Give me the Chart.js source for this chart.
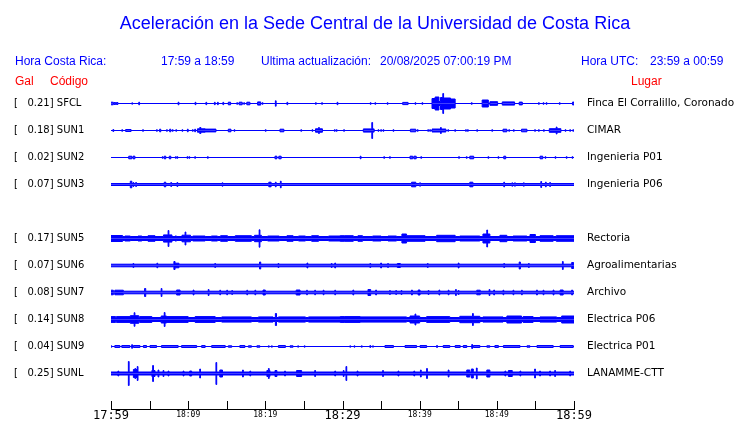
<!DOCTYPE html>
<html>
<head>
<meta charset="utf-8">
<script src="https://cdn.jsdelivr.net/npm/chart.js@4.4.1/dist/chart.umd.min.js"></script>
<style>
  body { margin: 0; background: #fff; }
</style>
</head>
<body>
<canvas id="myChart" width="740" height="423"></canvas>
<script>
const stations = ["SFCL", "SUN1", "SUN2", "SUN3", "SUN5", "SUN6", "SUN7", "SUN8", "SUN9", "SUNL"];
const peakGal = ["0.21", "0.18", "0.02", "0.07", "0.17", "0.07", "0.08", "0.14", "0.04", "0.25"];
const places = ["Finca El Corralillo, Coronado", "CIMAR", "Ingenieria P01", "Ingenieria P06", "Rectoria",
  "Agroalimentarias", "Archivo", "Electrica P06", "Electrica P01", "LANAMME-CTT"];
const slots = [0, 1, 2, 3, 5, 6, 7, 8, 9, 10];
const timeLabels = ["17:59", "18:09", "18:19", "18:29", "18:39", "18:49", "18:59"];

// background noise level of each trace
const noise = [0, 0, 0, 1, 2, 1.3, 1.3, 2, 0, 1.5];

// bursts: [start min, end min, half amplitude]
const evSFCL = [[0,0.3,1.3],[0.4,0.6,1],[0.7,0.9,1],[2.7,2.8,0.7],[3.6,3.7,1.3],[8.7,8.8,1.3],[10.9,11,1.2],
  [12.3,12.4,1.2],[13.4,13.5,1.2],[13.8,13.9,1.2],[14.5,14.6,1.2],[15.2,15.5,1.3],[16.3,16.4,0.8],[16.6,17,1.3],
  [17.2,17.3,0.8],[17.6,18,1.3],[19,19.4,1.6],[19.6,19.7,0.8],[21.3,21.4,2.7],[22.8,22.9,1.2],[26.5,26.6,0.8],
  [27.3,27.4,0.8],[29.3,29.4,1.2],[33.6,33.7,0.8],[34.2,34.3,0.8],[35.8,35.9,0.8],[37.8,38.5,1.1],[39.4,39.5,0.8],
  [40.3,40.4,0.8],[41.6,42,5],[42,42.5,6.5],[42.5,42.7,2],[42.7,43,6],[43,43.1,10],[43.1,44,5.5],[44,44.6,4.5],
  [46.7,46.8,0.8],[48.1,48.9,3.5],[49.1,50.1,1.8],[50.7,52.3,1.6],[52.9,53.3,1.4],[55.4,55.5,0.8],[56,56.1,0.8],
  [56.4,56.5,0.8],[58.1,58.2,0.8],[59.8,60,1.4]];
const evSUN1 = [[0.25,0.35,1],[1.4,1.5,0.8],[1.9,2.6,1],[4.1,4.2,0.8],[5.9,6,0.8],[6.3,6.45,1.3],[7.2,7.3,0.8],
  [7.6,7.75,1.3],[7.95,8.05,0.8],[8.4,8.5,0.8],[9.2,9.3,0.8],[9.9,10,1.3],[10.55,10.65,0.8],[10.85,10.95,1.3],
  [11.2,12.2,1.7],[11.5,11.65,3],[12.2,13.6,1.4],[15.2,15.55,1.3],[15.95,16.05,0.8],[20,20.1,0.8],[21.9,22.4,1.3],
  [24.6,24.7,0.8],[26.05,26.15,0.8],[26.5,27.4,1.7],[26.9,27,3],[28.95,29.05,0.8],[29.2,29.3,0.8],[30.15,30.25,0.8],
  [32.7,34.1,1.6],[33.8,33.9,8],[34.6,34.7,0.8],[34.95,35.05,0.8],[35.25,35.35,0.8],[36.55,36.65,0.8],
  [38.8,39.5,1.3],[39.7,39.8,0.8],[41.05,41.15,0.8],[41.3,41.4,0.8],[41.6,43.4,1.5],[42.7,42.8,3],[43.65,43.75,0.8],
  [44.55,44.65,0.8],[45.95,46.05,0.8],[46.2,46.3,0.8],[47.4,47.5,0.8],[49.35,49.45,0.8],[50.8,51.3,1.3],
  [51.55,51.65,0.8],[52.15,52.25,0.8],[53.2,53.9,1.3],[54.9,55,0.8],[55.4,55.5,0.8],[56.05,56.15,0.8],
  [56.8,58.3,1.8],[57.7,57.8,3.5],[58.85,58.95,0.8],[59.45,59.55,0.8],[59.85,59.95,0.8]];
const evSUN2 = [[2.3,2.7,1.3],[2.85,3.1,1.3],[6.65,6.75,0.8],[6.9,7.1,1.3],[7.55,7.75,1.3],[8.35,8.45,0.8],
  [8.55,8.65,0.8],[9.85,9.95,0.8],[10.1,10.2,0.8],[10.85,10.95,0.8],[12.5,12.6,0.8],[21.25,21.5,1.3],
  [21.75,22.05,1.3],[32.3,32.4,1.3],[35.35,35.45,0.8],[36.1,36.2,0.8],[38.75,39.1,1.3],[39.25,39.55,1.3],
  [40.15,40.25,0.8],[45.05,45.15,0.8],[46.05,46.15,0.8],[46.5,47,1.3],[48.85,48.95,0.8],[50.15,50.25,0.8],
  [50.9,51.15,1.3],[55.6,55.95,1.3],[56.25,56.35,0.8],[57.55,57.65,0.8],[59,59.1,0.8],[59.75,59.85,0.8]];
const evSUN3 = [[2.5,2.7,3.3],[2.85,2.95,2],[3.2,3.3,2],[6.9,7.1,2.3],[7.75,7.85,2],[8.55,8.65,2],[14.4,14.5,1.7],
  [20.45,20.75,2.3],[21.3,21.4,2.3],[21.95,22.05,3.3],[38.95,39.5,2.3],[40,40.1,1.7],[46.5,46.9,2.3],
  [50.9,51,2.3],[51.95,52.05,1.7],[52.3,52.4,1.7],[53.45,53.55,1.7],[55.7,55.8,3],[56.3,56.4,2.3],[56.85,56.95,2]];
const evSUN5 = [[0,1.5,3],[1.8,2.5,2.5],[3.5,4,2.5],[4.8,5.7,2.8],[6.8,7.9,3.6],[7.4,7.5,8],[8.3,8.5,2.5],
  [9.2,10.3,3.3],[9.6,9.7,6.5],[10.6,12.2,2.5],[13,13.8,2.5],[14.2,15.1,2.8],[16.1,18.2,2.8],[18.6,19.5,3.2],
  [19.2,19.3,8.7],[20.3,21.8,2.5],[22.8,23.6,2.8],[24.3,25.2,2.5],[26,26.9,2.8],[28.2,30.3,2.5],[29.7,31.4,2.8],
  [32,32.6,2.8],[33.9,35,2.5],[35.9,37,2.5],[37.7,38.3,4.5],[38.3,40.7,2.8],[42.2,44.6,3.2],[45.2,47.8,2.5],
  [48.2,49.1,4.5],[48.7,48.8,8.5],[50.4,51.3,3.2],[52.1,53.9,2.5],[54.3,55,4],[55.6,57.3,2.8],[57.7,60,2.8]];
const evSUN6 = [[2.85,2.95,2],[5.95,6.05,2.3],[8.15,8.3,4],[8.3,8.8,2.3],[13.45,13.55,2],[19.25,19.4,3.5],
  [21.65,21.75,2],[25.4,25.5,2.5],[28.55,28.65,2],[29,29.1,2.5],[33.55,33.65,2],[34.95,35.05,2.5],
  [35.85,35.95,2],[37.1,37.5,2],[41,41.1,2],[45,45.1,2.5],[50.9,51,2],[52.9,53.05,3.5],[54.1,54.2,2],
  [58.5,58.6,4],[59.7,59.95,3]];
const evSUN7 = [[0,0.3,2.3],[0.5,1.6,2.3],[4.35,4.5,4],[6.5,6.6,4],[8.5,8.95,2.5],[10.65,10.75,2.5],[12.6,12.7,3],
  [14.1,14.2,2.3],[15,15.1,2.3],[15.65,15.75,2],[17.6,17.7,2.3],[18.65,18.75,2.3],[19.7,20,2.5],[24,24.5,2.5],
  [25.35,25.45,2.3],[26.4,26.5,2.3],[27.5,27.6,2.3],[29,29.1,2.3],[31.35,31.45,2.5],[33.3,33.65,3],[34.3,34.4,2.5],
  [36.1,36.2,2],[36.9,37,2],[37.6,37.7,2],[38.95,39.05,2.5],[39.8,40.05,2.5],[41.1,41.2,2],[42.5,42.6,2.5],
  [43.7,43.8,2.3],[44.65,44.75,3],[45,45.1,2],[47.4,47.85,2.3],[49,49.1,3],[49.6,49.7,2.5],[50.8,50.9,2.3],
  [52.1,52.2,2.3],[53.2,53.3,2.3],[55.15,55.25,2.5],[56,56.1,2.3],[57.3,57.4,2.5],[58.2,58.6,2.5],[59.7,59.8,2.5]];
const evSUN8 = [[0,0.6,2.9],[0.7,2.5,2.9],[2.5,3.6,3.8],[3,3.1,6.8],[3.7,5.3,2.9],[6.5,7.2,3.5],[6.9,7,7],
  [7.2,10,2.9],[10.9,13.5,2.9],[14.35,18.2,2.6],[19.1,21,2.6],[21.3,21.45,6],[21.7,25.2,2.6],[25.6,30.3,2.6],
  [29.7,32.3,2.9],[32.3,38.3,2.6],[38.75,40,3.5],[39.4,39.5,5.5],[40.9,43.9,2.9],[45.2,47.8,3.2],[46.85,46.95,6],
  [48.2,50.8,2.6],[51.3,53.2,3.5],[53.4,54.7,2.9],[55.6,57.75,2.6],[58.4,60,3.5]];
const evSUN9 = [[0,0.1,0.7],[0.5,1.15,1],[1.4,2.45,1],[2.68,2.78,1.8],[2.9,3.75,1],[4.2,4.6,1],[5.05,5.9,1],
  [6.55,8.7,1],[9.15,11.1,1],[11.75,12.2,1],[13.05,14.8,1],[15.2,15.65,0.7],[16.7,17.35,1],[17.8,18.2,0.7],
  [18.9,19.3,0.7],[20.4,20.5,0.7],[20.8,20.9,0.7],[21.7,22.6,1],[23.2,23.6,0.7],[24.2,24.3,0.7],[25.05,25.15,0.7],
  [30.95,31.05,0.7],[31.5,31.6,0.7],[32.45,32.55,0.7],[33.55,33.65,1],[33.9,34,0.7],[35.5,36.6,1],[38.1,39.6,1],
  [40.05,40.9,1],[42.2,42.3,1],[43.05,43.9,1],[44.6,45.25,1],[45.65,46.1,1],[46.75,46.85,2],
  [46.95,47.8,1],[48.7,49.1,0.7],[49.75,50.2,1],[50.85,53,1],[53.9,54.3,0.7],[55.2,57.3,1],[58.2,59.9,1]];
const evSUNL = [[0.9,1,2.5],[2.25,2.35,12],[2.9,3.4,4],[3.1,3.2,5],[3.4,3.5,7],[5.3,5.7,3],[5.4,5.5,8],
  [6.1,6.2,3.5],[6.75,6.85,3],[7.4,7.5,2.5],[9.35,9.45,2.5],[10.2,10.45,2.5],[11.5,11.6,4.5],[13.6,13.7,11],
  [14.1,14.45,3.5],[17.05,17.15,3.5],[18,18.1,2.5],[20.2,20.6,3],[20.4,20.5,5],[21.25,21.5,3],[22.5,22.6,2.5],
  [24.05,24.7,3],[26.4,26.5,3],[29,29.1,2.5],[30.1,30.2,3],[30.45,30.55,7],[31.9,32,2.5],[35.2,35.3,3],
  [37.2,37.3,2.5],[39.25,39.35,2.5],[40.1,40.2,3.5],[40.9,41,5],[43.7,43.8,3.5],[46.1,46.5,3.5],[46.7,46.95,4.5],
  [47.35,47.45,5.5],[48.7,49.1,3.5],[51.05,51.15,2.5],[51.5,52,3],[53,53.1,2.5],[54.9,55,4.5],[55.55,55.65,2.5],
  [56.85,56.95,2.5],[57.5,57.6,3],[59.45,59.55,2.5]];
const events = [evSFCL, evSUN1, evSUN2, evSUN3, evSUN5, evSUN6, evSUN7, evSUN8, evSUN9, evSUNL];

const gain = 1 / 27; // trace units per slot
const blue = "#0000ff";
const sans = "'Liberation Sans', Arial, sans-serif";

// step envelope: for every interval between breakpoints take the largest burst
function envelope(ev, base) {
  const cuts = new Set([0, 60]);
  ev.forEach(e => { cuts.add(e[0]); cuts.add(e[1]); });
  const xs = [...cuts].sort((a, b) => a - b);
  return xs.map((x, i) => {
    const mid = i < xs.length - 1 ? (x + xs[i + 1]) / 2 : x;
    let a = base;
    ev.forEach(e => { if (e[0] <= mid && mid < e[1]) a = Math.max(a, e[2]); });
    return { x, a };
  });
}

const datasets = [];
stations.forEach((s, i) => {
  const env = envelope(events[i], noise[i]);
  [-1, 1].forEach(sign => {
    datasets.push({
      label: s,
      data: env.map(p => ({ x: p.x, y: slots[i] + sign * p.a * gain })),
      stepped: true,
      borderColor: blue,
      backgroundColor: blue,
      borderWidth: 1,
      pointRadius: 0,
      fill: { value: slots[i] },
    });
  });
});

const header = {
  id: "header",
  afterDraw(chart) {
    const c = chart.ctx;
    c.save();
    c.fillStyle = blue;
    c.textBaseline = "alphabetic";
    c.font = "18px " + sans;
    c.textAlign = "center";
    c.fillText("Aceleración en la Sede Central de la Universidad de Costa Rica", 375, 29);
    c.textAlign = "left";
    c.font = "12px " + sans;
    c.fillText("Hora Costa Rica:", 15, 65);
    c.fillText("17:59 a 18:59", 161, 65);
    c.fillText("Ultima actualización:", 261, 65);
    c.fillText("20/08/2025 07:00:19 PM", 380, 65);
    c.fillText("Hora UTC:", 581, 65);
    c.fillText("23:59 a 00:59", 650, 65);
    c.fillStyle = "#ff0000";
    c.fillText("Gal", 15, 85);
    c.fillText("Código", 50, 85);
    c.fillText("Lugar", 631, 85);
    // tick marks pointing up from the time axis
    const xs = chart.scales.x;
    c.strokeStyle = "#000";
    c.lineWidth = 1;
    c.beginPath();
    xs.ticks.forEach(t => {
      const px = Math.round(xs.getPixelForValue(t.value)) + 0.5;
      c.moveTo(px, xs.top);
      c.lineTo(px, xs.top - 8);
    });
    c.stroke();
    c.restore();
  },
};

const yMin = -1 - 0.5 / 27;
const yMax = 11 + 1 / 3 - 0.5 / 27;
const noPad = s => { s.paddingTop = 0; s.paddingBottom = 0; };

new Chart(document.getElementById("myChart"), {
  type: "line",
  data: { datasets },
  options: {
    responsive: false,
    animation: false,
    events: [],
    layout: { padding: { top: 76, left: 14, right: 0, bottom: 0 } },
    plugins: { legend: { display: false }, tooltip: { enabled: false } },
    scales: {
      x: {
        type: "linear",
        min: 0,
        max: 60,
        grid: { display: false, drawTicks: false },
        border: { display: true, color: "#000", width: 1 },
        afterFit: s => { s.height = 14; },
        ticks: {
          stepSize: 5,
          autoSkip: false,
          maxRotation: 0,
          padding: 0,
          color: "#000",
          font: ctx => ctx.tick && ctx.tick.value % 30 === 0
            ? { family: "'DejaVu Sans Mono'", size: 12, lineHeight: 1.2 }
            : { family: "'DejaVu Sans Mono'", size: 8, lineHeight: 1.4 },
          callback: v => (v % 10 === 0 ? timeLabels[v / 10] : ""),
        },
      },
      y: {
        type: "linear",
        position: "left",
        reverse: true,
        min: yMin,
        max: yMax,
        grid: { display: false, drawTicks: false },
        border: { display: false },
        afterFit: s => { s.width = 97; noPad(s); },
        afterBuildTicks: s => { s.ticks = slots.map(v => ({ value: v })); },
        ticks: {
          crossAlign: "far",
          padding: 0,
          color: "#000",
          font: { family: "'DejaVu Sans'", size: 10 },
          callback: (v, i) => "[   " + peakGal[i] + "] " + stations[i],
        },
      },
      y2: {
        type: "linear",
        position: "right",
        reverse: true,
        min: yMin,
        max: yMax,
        grid: { display: false, drawTicks: false },
        border: { display: false },
        afterFit: s => { s.width = 166; noPad(s); },
        afterBuildTicks: s => { s.ticks = slots.map(v => ({ value: v })); },
        ticks: {
          padding: 13,
          color: "#000",
          font: { family: "'DejaVu Sans'", size: 10.5 },
          callback: (v, i) => places[i],
        },
      },
    },
  },
  plugins: [header],
});
</script>
</body>
</html>
